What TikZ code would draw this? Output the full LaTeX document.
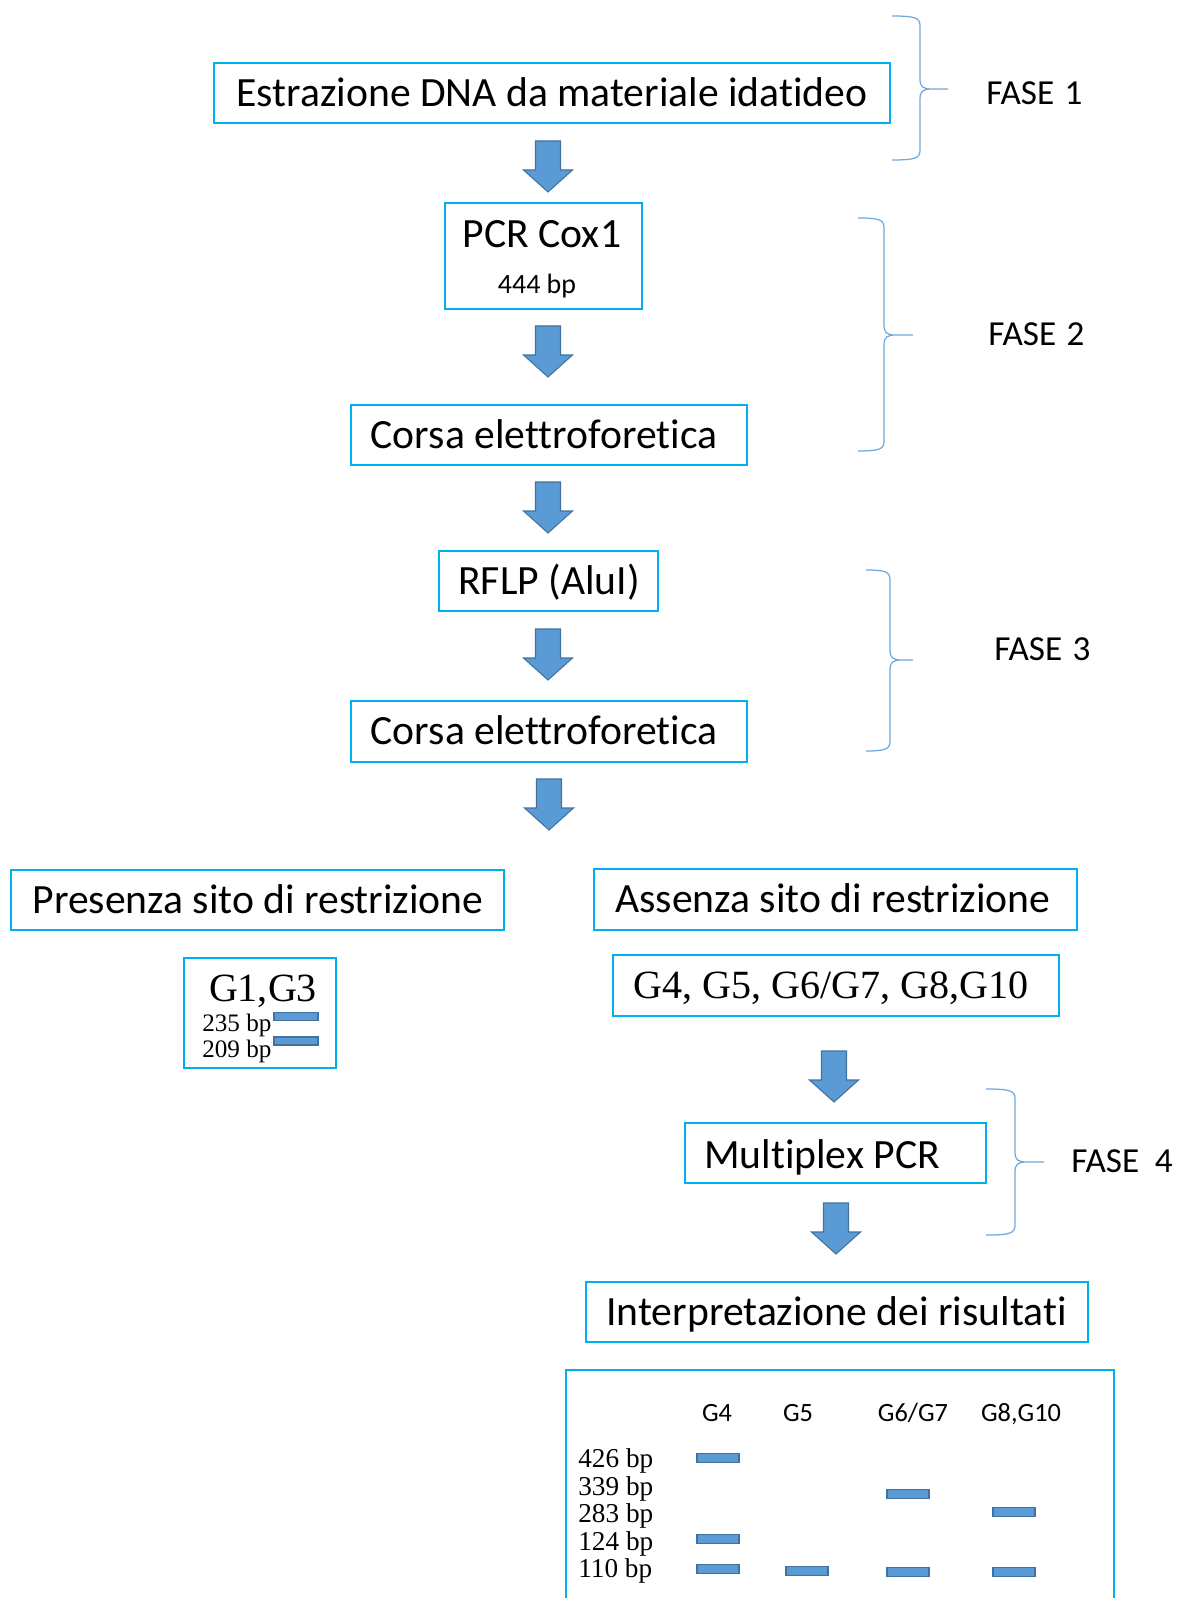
\documentclass[tikz,border=0pt]{standalone}
\usepackage{fontspec}
\setmainfont{Carlito}[Ligatures=NoCommon]
\newfontfamily\serifG{Liberation Serif}
\usetikzlibrary{calc}
\definecolor{boxblue}{HTML}{00B0F0}
\definecolor{arrowfill}{HTML}{5B9BD5}
\definecolor{arrowedge}{HTML}{41719C}
\definecolor{bracecol}{HTML}{6FA8DC}
\tikzset{
  box/.style={draw=boxblue, line width=1.2pt, inner sep=0pt},
  btext/.style={font=\fontsize{23.7}{28}\selectfont, inner sep=0pt, text height=0.644em, text depth=0pt, yshift=-0.16cm},
  stext/.style={font=\fontsize{15.9}{19}\selectfont, inner sep=0pt, text height=0.644em, text depth=0pt, yshift=-0.09cm},
  fasetext/.style={font=\fontsize{20}{24}\selectfont, inner sep=0pt, anchor=west, text height=0.644em, text depth=0pt, yshift=-0.13cm},
  gtext/.style={font=\serifG\fontsize{22.8}{27}\selectfont, inner sep=0pt, text height=0.662em, text depth=0pt, yshift=-0.15cm},
  bptext/.style={font=\serifG\fontsize{15.5}{18}\selectfont, inner sep=0pt, anchor=west, text height=0.662em, text depth=0pt, yshift=-0.09cm},
  bpsmall/.style={font=\serifG\fontsize{14.3}{17}\selectfont, inner sep=0pt, anchor=west, text height=0.662em, text depth=0pt, yshift=-0.08cm},
  coltext/.style={font=\fontsize{15}{18}\selectfont, inner sep=0pt, text height=0.644em, text depth=0pt, yshift=-0.09cm},
  gelbar/.style={fill=arrowfill, draw=arrowedge, line width=0.8pt, minimum width=42*0.02cm, minimum height=9*0.02cm, inner sep=0pt},
  bracestyle/.style={draw=bracecol, line width=0.7pt},
  downarrow/.pic={\filldraw[fill=arrowfill, draw=arrowedge, line width=0.6pt]
     (-12.5,0) -- (12.5,0) -- (12.5,29) -- (24.5,29) -- (0,51) -- (-24.5,29) -- (-12.5,29) -- cycle;}
}
\newcommand\mybrace[6]{%
  \draw[bracestyle] (#1,#4) .. controls (#2-4,#4) and (#2,#4+2) .. (#2,#4+10)
    -- (#2,#5-10) .. controls (#2,#5-2) and (#2+3,#5) .. (#2+12,#5) -- (#3,#5)
    (#2+12,#5) .. controls (#2+3,#5) and (#2,#5+2) .. (#2,#5+10)
    -- (#2,#6-10) .. controls (#2,#6-2) and (#2-4,#6) .. (#1,#6);}
\begin{document}
\begin{tikzpicture}[x=0.02cm, y=-0.02cm]
\useasboundingbox (0,0) rectangle (1179,1598);
\clip (0,0) rectangle (1179,1598);
% boxes
\node[box, minimum width=676*0.02cm, minimum height=60*0.02cm] (b1) at (552,93) {};
\node[box, minimum width=197*0.02cm, minimum height=106*0.02cm] (b2) at (543.5,256) {};
\node[box, minimum width=396*0.02cm, minimum height=60*0.02cm] (b3) at (549,435) {};
\node[box, minimum width=219*0.02cm, minimum height=60*0.02cm] (b4) at (548.5,581) {};
\node[box, minimum width=396*0.02cm, minimum height=61*0.02cm] (b5) at (549,731.5) {};
\node[box, minimum width=493*0.02cm, minimum height=60*0.02cm] (b6) at (257.5,900) {};
\node[box, minimum width=483*0.02cm, minimum height=61*0.02cm] (b7) at (835.5,899.5) {};
\node[box, minimum width=152*0.02cm, minimum height=110*0.02cm] (b8) at (260,1013) {};
\node[box, minimum width=446*0.02cm, minimum height=61*0.02cm] (b9) at (836,985.5) {};
\node[box, minimum width=301*0.02cm, minimum height=60*0.02cm] (b10) at (835.5,1153) {};
\node[box, minimum width=502*0.02cm, minimum height=60*0.02cm] (b11) at (837,1312) {};
\node[box, minimum width=548*0.02cm, minimum height=270*0.02cm] (b12) at (840,1505) {};
% texts
\node[btext] (t1) at (552,93) {Estrazione DNA da materiale idatideo};
\node[btext] (t2a) at (542,234) {PCR Cox1};
\node[stext] (t2b) at (537,283) {444 bp};
\node[btext] (t3) at (544,435) {Corsa elettroforetica};
\node[btext] (t4) at (549,581) {RFLP (AluI)};
\node[btext] (t5) at (544,731) {Corsa elettroforetica};
\node[btext] (t6) at (258,900) {Presenza sito di restrizione};
\node[btext] (t7) at (833,899) {Assenza sito di restrizione};
\node[gtext] (t8) at (263,988) {G1,G3};
\node[bpsmall] (t8a) at (202,1022) {235 bp};
\node[bpsmall] (t8b) at (202,1048) {209 bp};
\node[gelbar, minimum width=44*0.02cm, minimum height=8*0.02cm] (g8a) at (296,1016.5) {};
\node[gelbar, minimum width=44*0.02cm, minimum height=8*0.02cm] (g8b) at (296,1041) {};
\node[gtext] (t9) at (831,985) {G4, G5, G6/G7, G8,G10};
\node[btext] (t10) at (822,1155) {Multiplex PCR};
\node[btext] (t11) at (836.6,1312) {Interpretazione dei risultati};
% phases
\node[fasetext] (f1) at (986,92) {FASE\hspace{0.3em}1};
\node[fasetext] (f2) at (988,333) {FASE\hspace{0.3em}2};
\node[fasetext] (f3) at (994,648) {FASE\hspace{0.3em}3};
\node[fasetext] (f4) at (1071,1160) {FASE\hspace{0.45em}4};
\mybrace{892}{920}{948}{16}{89}{160}
\mybrace{858}{884}{913}{218}{335}{451}
\mybrace{866}{890}{913}{570}{660}{751}
\mybrace{986}{1015}{1044}{1089}{1162}{1235}
% block arrows
\pic at (548,141) {downarrow};
\pic at (548,326) {downarrow};
\pic at (548,482) {downarrow};
\pic at (548,629) {downarrow};
\pic at (549,779) {downarrow};
\pic at (834,1051) {downarrow};
\pic at (836,1203) {downarrow};
% table
\node[coltext] (h1) at (717,1411) {G4};
\node[coltext] (h2) at (798,1411) {G5};
\node[coltext] (h3) at (913,1411) {G6/G7};
\node[coltext] (h4) at (1021,1411) {G8,G10};
\node[bptext] (l1) at (578,1457) {426 bp};
\node[bptext] (l2) at (578,1485) {339 bp};
\node[bptext] (l3) at (578,1512) {283 bp};
\node[bptext] (l4) at (578,1540) {124 bp};
\node[bptext] (l5) at (578,1567) {110 bp};
\node[gelbar] (p1) at (718,1458) {};
\node[gelbar] (p2) at (718,1539) {};
\node[gelbar] (p3) at (718,1569) {};
\node[gelbar] (p4) at (807,1571) {};
\node[gelbar] (p5) at (908,1494) {};
\node[gelbar] (p6) at (908,1572) {};
\node[gelbar] (p7) at (1014,1512) {};
\node[gelbar] (p8) at (1014,1572) {};
\end{tikzpicture}
\end{document}
